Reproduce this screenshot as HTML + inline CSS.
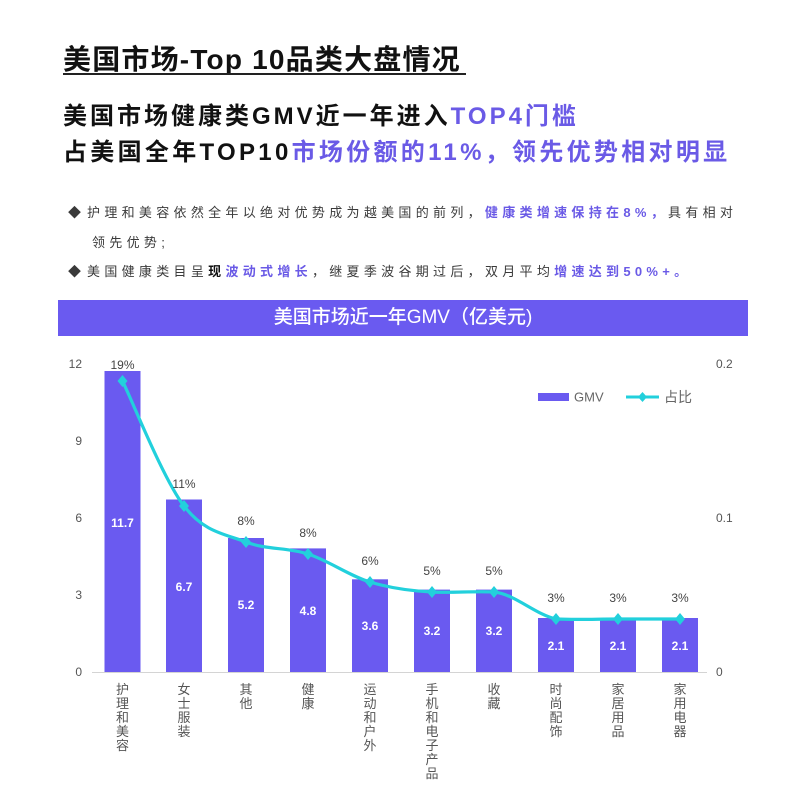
<!DOCTYPE html>
<html><head><meta charset="utf-8"><style>
html,body{margin:0;padding:0;background:#fff;}
body{width:800px;height:785px;position:relative;overflow:hidden;font-family:"Liberation Sans","Noto Sans CJK SC",sans-serif;}
.t{position:absolute;white-space:nowrap;}
.title{left:63px;top:44px;font-size:28px;line-height:32px;letter-spacing:1.2px;color:#111;font-weight:bold;}
.uline{position:absolute;left:63px;top:73px;width:403px;height:1.5px;background:#222;}
.h{left:63px;font-size:24px;line-height:28px;letter-spacing:3px;font-weight:bold;color:#111;}
.p{color:#6a5ae6;}
.b{left:68px;font-size:13px;line-height:16px;letter-spacing:4.3px;color:#3a3a3a;}
.bp{color:#6a5ae6;font-weight:bold;}
.banner{position:absolute;left:58px;top:300px;width:690px;height:36px;background:#6a5af0;color:#fff;font-size:19px;line-height:36px;text-align:center;font-weight:500;}
svg{position:absolute;left:0;top:0;}
</style></head><body>
<div class="t title">美国市场-Top 10品类大盘情况</div>
<div class="uline"></div>
<div class="t h" style="top:103px;">美国市场健康类GMV近一年进入<span class="p">TOP4门槛</span></div>
<div class="t h" style="top:139px;letter-spacing:3.3px;">占美国全年TOP10<span class="p">市场份额的11%，领先优势相对明显</span></div>
<div class="t b" style="top:205px;"><span style="letter-spacing:6px;">◆</span>护理和美容依然全年以绝对优势成为越美国的前列，<span class="bp">健康类增速保持在8%，</span>具有相对</div>
<div class="t b" style="top:235px;left:92px;">领先优势;</div>
<div class="t b" style="top:264px;"><span style="letter-spacing:6px;">◆</span>美国健康类目呈<b style="color:#111">现</b><span class="bp">波动式增长</span>，继夏季波谷期过后，双月平均<span class="bp">增速达到50%+。</span></div>
<div class="banner">美国市场近一年GMV（亿美元)</div>
<svg width="800" height="785" viewBox="0 0 800 785" font-family="Liberation Sans, Noto Sans CJK SC, sans-serif">
<g font-size="12" fill="#555" text-anchor="end">
<text x="82" y="368">12</text>
<text x="82" y="445">9</text>
<text x="82" y="522">6</text>
<text x="82" y="599">3</text>
<text x="82" y="676">0</text>
</g>
<g font-size="12" fill="#555" text-anchor="start">
<text x="716" y="368">0.2</text>
<text x="716" y="522">0.1</text>
<text x="716" y="676">0</text>
</g>
<g fill="#6a5af0">
<rect x="104.5" y="371" width="36" height="301"/>
<rect x="166" y="499.5" width="36" height="172.5"/>
<rect x="228" y="538" width="36" height="134"/>
<rect x="290" y="548.4" width="36" height="123.6"/>
<rect x="352" y="579.3" width="36" height="92.7"/>
<rect x="414" y="589.6" width="36" height="82.4"/>
<rect x="476" y="589.6" width="36" height="82.4"/>
<rect x="538" y="618" width="36" height="54"/>
<rect x="600" y="618" width="36" height="54"/>
<rect x="662" y="618" width="36" height="54"/>
</g>
<line x1="92" y1="672.5" x2="707" y2="672.5" stroke="#d4d4d4" stroke-width="1"/>
<g font-size="12" font-weight="bold" fill="#fff" text-anchor="middle">
<text x="122.5" y="527">11.7</text>
<text x="184" y="591">6.7</text>
<text x="246" y="609">5.2</text>
<text x="308" y="615">4.8</text>
<text x="370" y="630">3.6</text>
<text x="432" y="635">3.2</text>
<text x="494" y="635">3.2</text>
<text x="556" y="650">2.1</text>
<text x="618" y="650">2.1</text>
<text x="680" y="650">2.1</text>
</g>
<path d="M122.5,381 C132.75,401.8 163.4,479.2 184,506 C204.6,532.8 225.3,534 246,542 C266.7,550 287.3,547.3 308,554 C328.7,560.7 349.3,575.7 370,582 C390.7,588.3 411.3,591 432,592 C452.7,593 473.3,591 494,592 C514.7,594 535.3,614.5 556,619 C576.7,620 597.3,619 618,619 C638.7,619 669.7,619 680,619" fill="none" stroke="#22d0dc" stroke-width="3.2" stroke-linejoin="round" stroke-linecap="round"/>
<g fill="#22d0dc">
<path d="M122.5,375 l5,6 l-5,6 l-5,-6z"/>
<path d="M184,500 l5,6 l-5,6 l-5,-6z"/>
<path d="M246,536 l5,6 l-5,6 l-5,-6z"/>
<path d="M308,548 l5,6 l-5,6 l-5,-6z"/>
<path d="M370,576 l5,6 l-5,6 l-5,-6z"/>
<path d="M432,586 l5,6 l-5,6 l-5,-6z"/>
<path d="M494,586 l5,6 l-5,6 l-5,-6z"/>
<path d="M556,613 l5,6 l-5,6 l-5,-6z"/>
<path d="M618,613 l5,6 l-5,6 l-5,-6z"/>
<path d="M680,613 l5,6 l-5,6 l-5,-6z"/>
</g>
<g font-size="12" fill="#444" text-anchor="middle">
<text x="122.5" y="369">19%</text>
<text x="184" y="488">11%</text>
<text x="246" y="525">8%</text>
<text x="308" y="537">8%</text>
<text x="370" y="565">6%</text>
<text x="432" y="575">5%</text>
<text x="494" y="575">5%</text>
<text x="556" y="602">3%</text>
<text x="618" y="602">3%</text>
<text x="680" y="602">3%</text>
</g>
<rect x="538" y="393" width="31" height="8" fill="#6a5af0"/>
<text x="574" y="401.5" font-size="13" fill="#666">GMV</text>
<line x1="626" y1="397" x2="659" y2="397" stroke="#22d0dc" stroke-width="3"/>
<path d="M642.5,392 l4.5,5 l-4.5,5 l-4.5,-5z" fill="#22d0dc"/>
<text x="664" y="402" font-size="14" fill="#666">占比</text>
<g font-size="13" fill="#555" text-anchor="middle">
<text x="122.5" y="694">护</text><text x="122.5" y="708">理</text><text x="122.5" y="722">和</text><text x="122.5" y="736">美</text><text x="122.5" y="750">容</text>
<text x="184" y="694">女</text><text x="184" y="708">士</text><text x="184" y="722">服</text><text x="184" y="736">装</text>
<text x="246" y="694">其</text><text x="246" y="708">他</text>
<text x="308" y="694">健</text><text x="308" y="708">康</text>
<text x="370" y="694">运</text><text x="370" y="708">动</text><text x="370" y="722">和</text><text x="370" y="736">户</text><text x="370" y="750">外</text>
<text x="432" y="694">手</text><text x="432" y="708">机</text><text x="432" y="722">和</text><text x="432" y="736">电</text><text x="432" y="750">子</text><text x="432" y="764">产</text><text x="432" y="778">品</text>
<text x="494" y="694">收</text><text x="494" y="708">藏</text>
<text x="556" y="694">时</text><text x="556" y="708">尚</text><text x="556" y="722">配</text><text x="556" y="736">饰</text>
<text x="618" y="694">家</text><text x="618" y="708">居</text><text x="618" y="722">用</text><text x="618" y="736">品</text>
<text x="680" y="694">家</text><text x="680" y="708">用</text><text x="680" y="722">电</text><text x="680" y="736">器</text>
</g>
</svg>
</body></html>
